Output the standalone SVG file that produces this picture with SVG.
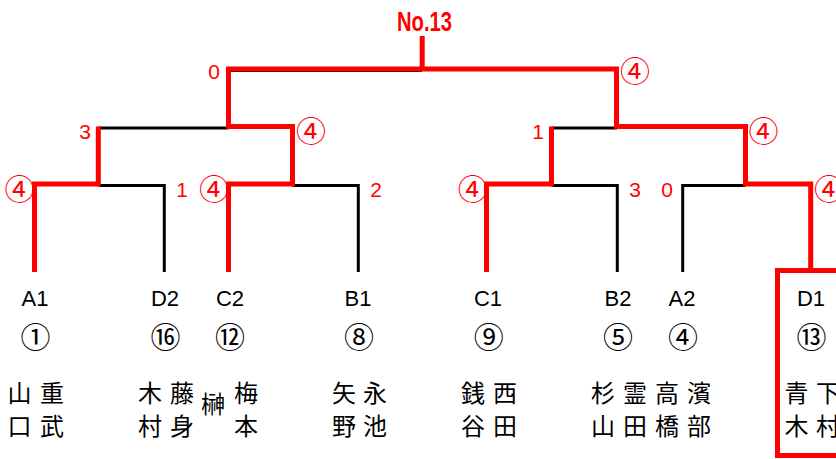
<svg xmlns="http://www.w3.org/2000/svg" width="836" height="459" viewBox="0 0 836 459">
<style>
.blk{stroke:#000;stroke-width:3;fill:none}
.red{stroke:#ff0000;stroke-width:5;fill:none}
.lbl{font-family:"Liberation Sans",Arial,sans-serif;font-size:22px;fill:#000;text-anchor:middle}
.seed{font-family:"Noto Sans CJK JP",sans-serif;font-size:30px;fill:#000;text-anchor:middle}
.nm{font-family:"Noto Sans CJK JP",sans-serif;font-size:24px;fill:#000;text-anchor:middle}
.sc{font-family:"Liberation Sans",Arial,sans-serif;font-size:21px;fill:#ff0000;text-anchor:middle}
.win{font-family:"Noto Sans CJK JP",sans-serif;font-size:30px;fill:#ff0000;text-anchor:middle}
</style>
<rect width="836" height="459" fill="#fff"/>
<g id="title">
<text x="397" y="30.5" font-family="'Liberation Sans',Arial,sans-serif" font-size="28" font-weight="bold" fill="#ff0000" textLength="55" lengthAdjust="spacingAndGlyphs">No.13</text>
</g>
<g id="connectors">
<path class="blk" d="M228.5 70.5H422"/>
<path class="blk" d="M98.5 128H228.5"/>
<path class="blk" d="M551.5 128H617"/>
<path class="blk" d="M98.5 185.5H164.3V272"/>
<path class="blk" d="M292.5 185.5H358.3V272"/>
<path class="blk" d="M551.5 185.5H617.3V272"/>
<path class="blk" d="M745.5 185.5H682.7V272"/>
<path class="red" d="M422.2 36V69H616.5V126.5H745.5V184H810.7V270"/>
<path class="red" d="M551.5 126.5V184H486.5V272"/>
<path class="red" d="M422.2 69H228.5V126.5H292.5V184H228.5V272"/>
<path class="red" d="M98.3 126.5V184H34.5V272"/>
<rect class="red" x="777.5" y="270.5" width="100" height="185"/>
</g>
<g id="scores">
<text class="sc" x="214" y="78.5">0</text>
<text class="win" x="311" y="141.5">④</text>
<text class="sc" x="85" y="138.5">3</text>
<text class="win" x="19.5" y="200">④</text>
<text class="sc" x="182" y="197">1</text>
<text class="win" x="214" y="200">④</text>
<text class="sc" x="376" y="197">2</text>
<text class="win" x="635" y="82">④</text>
<text class="sc" x="538" y="138.5">1</text>
<text class="win" x="763.5" y="141.5">④</text>
<text class="win" x="472.7" y="200">④</text>
<text class="sc" x="635" y="197">3</text>
<text class="sc" x="667" y="197">0</text>
<text class="win" x="829" y="200">④</text>
</g>
<g id="A1">
<text class="lbl" x="35" y="306">A1</text>
<text class="seed" x="35.5" y="348">①</text>
<text class="nm" x="19.5" y="402">山</text><text class="nm" x="19.5" y="435">口</text>
<text class="nm" x="52" y="402">重</text><text class="nm" x="52" y="435">武</text>
</g>
<g id="D2">
<text class="lbl" x="165" y="306">D2</text>
<text class="seed" x="165.5" y="348">⑯</text>
<text class="nm" x="150" y="402">木</text><text class="nm" x="150" y="435">村</text>
<text class="nm" x="182" y="402">藤</text><text class="nm" x="182" y="435">身</text>
</g>
<g id="C2">
<text class="lbl" x="230" y="306">C2</text>
<text class="seed" x="230" y="348">⑫</text>
<text class="nm" x="213" y="413" font-size="22">榊</text>
<text class="nm" x="246" y="402">梅</text><text class="nm" x="246" y="435">本</text>
</g>
<g id="B1">
<text class="lbl" x="358" y="306">B1</text>
<text class="seed" x="359" y="348">⑧</text>
<text class="nm" x="344" y="402">矢</text><text class="nm" x="344" y="435">野</text>
<text class="nm" x="375" y="402">永</text><text class="nm" x="375" y="435">池</text>
</g>
<g id="C1">
<text class="lbl" x="488" y="306">C1</text>
<text class="seed" x="488.7" y="348">⑨</text>
<text class="nm" x="473" y="402">銭</text><text class="nm" x="473" y="435">谷</text>
<text class="nm" x="505" y="402">西</text><text class="nm" x="505" y="435">田</text>
</g>
<g id="B2">
<text class="lbl" x="618" y="306">B2</text>
<text class="seed" x="618" y="348">⑤</text>
<text class="nm" x="603" y="402">杉</text><text class="nm" x="603" y="435">山</text>
<text class="nm" x="635" y="402">霊</text><text class="nm" x="635" y="435">田</text>
</g>
<g id="A2">
<text class="lbl" x="682" y="306">A2</text>
<text class="seed" x="683" y="348">④</text>
<text class="nm" x="667" y="402">高</text><text class="nm" x="667" y="435">橋</text>
<text class="nm" x="699" y="402">濱</text><text class="nm" x="699" y="435">部</text>
</g>
<g id="D1">
<text class="lbl" x="811" y="306">D1</text>
<text class="seed" x="811.5" y="348">⑬</text>
<text class="nm" x="796.5" y="402">青</text><text class="nm" x="796.5" y="435">木</text>
<text class="nm" x="828" y="402">下</text><text class="nm" x="828" y="435">村</text>
</g>
</svg>
